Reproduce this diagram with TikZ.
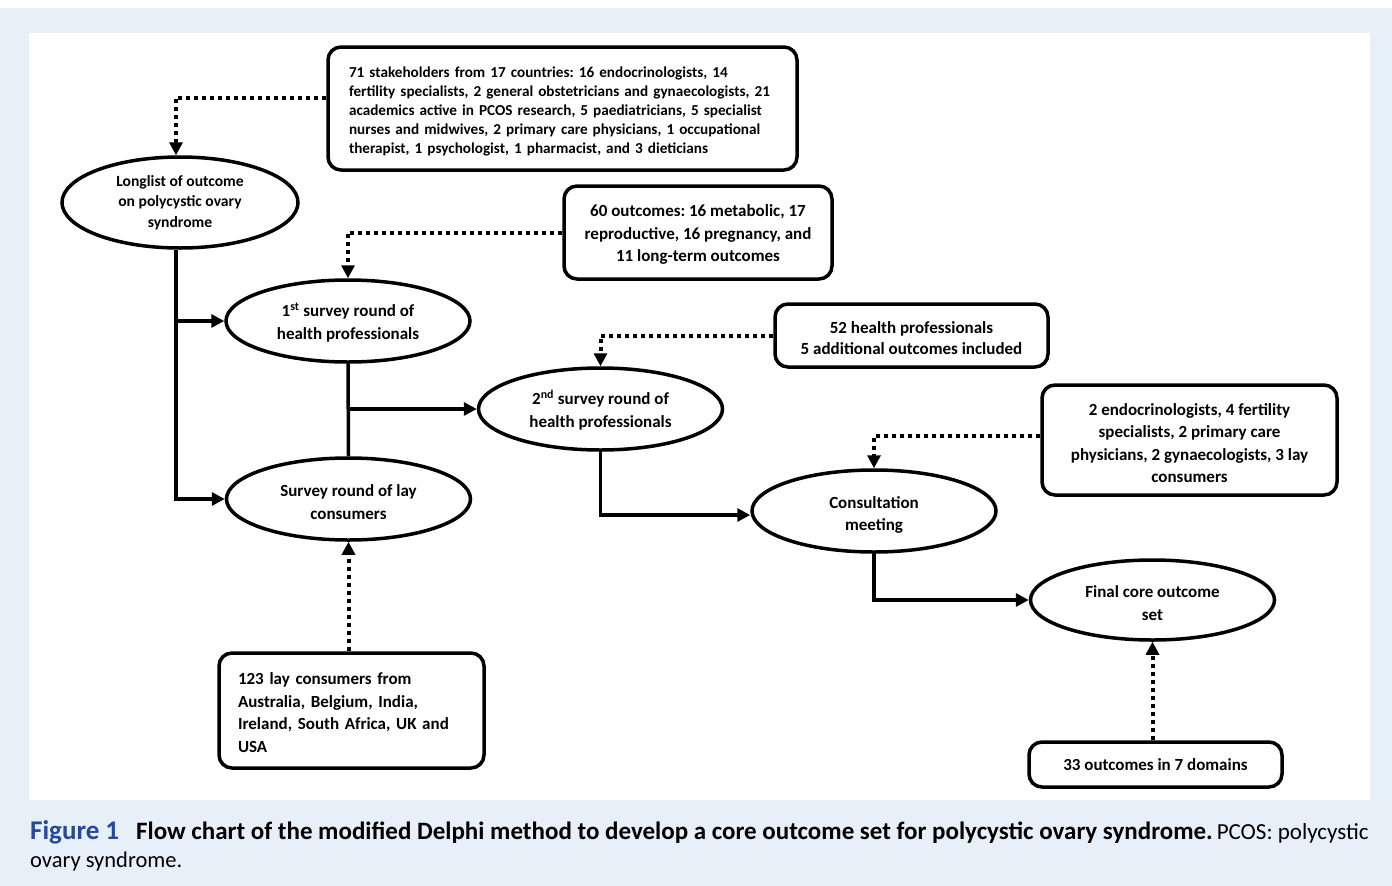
\documentclass[tikz,border=0pt]{standalone}
\usepackage{fontspec}
\setmainfont{Carlito}
\usetikzlibrary{arrows.meta,shapes.geometric,calc}
\definecolor{bgblue}{RGB}{231,239,248}
\definecolor{figblue}{RGB}{40,72,155}
\frenchspacing
\newcommand{\mystrut}[1]{\rule{0pt}{#1}}
\tikzset{
  oval/.style={draw, line width=3.5pt, ellipse, inner sep=0pt, minimum width=244pt, minimum height=82pt, align=center, font=\fontsize{17}{22.5}\selectfont\bfseries, fill=white},
  infobox/.style={draw, line width=3.5pt, rounded corners=13pt, inner sep=0pt, font=\fontsize{17}{22.5}\selectfont\bfseries, fill=white},
  flowarrow/.style={line width=3.5pt, -{Triangle[length=13pt,width=13pt]}},
  flowline/.style={line width=3.5pt},
  dotarrow/.style={line width=4pt, dash pattern=on 4pt off 4pt, -{Triangle[length=13pt,width=13pt]}}
}
\begin{document}
\begin{tikzpicture}[x=1pt,y=-1pt]
\useasboundingbox (0,0) rectangle (1392,886);
\fill[white] (0,0) rectangle (1392,886);
\fill[bgblue] (0,8) rectangle (1392,886);
\fill[white] (29,33) rectangle (1370,800);

% boxes
\node[infobox, minimum width=469pt, minimum height=123pt, text width=427pt, align=left,
      font=\fontsize{15.2}{19}\selectfont\bfseries] (stake) at (562.5,108.5)
  {\mystrut{17pt}71 stakeholders from 17 countries: 16 endocrinologists, 14\\
   fertility specialists, 2 general obstetricians and gynaecologists, 21\\
   academics active in PCOS research, 5 paediatricians, 5 specialist\\
   nurses and midwives, 2 primary care physicians, 1 occupational\\
   therapist, 1 psychologist, 1 pharmacist, and 3 dieticians};
\node[infobox, minimum width=268pt, minimum height=93pt, align=center] (c60) at (698,232.5)
  {\mystrut{16pt}60 outcomes: 16 metabolic, 17\\ reproductive, 16 pregnancy, and\\ 11 long-term outcomes};
\node[infobox, minimum width=273pt, minimum height=63pt, align=center, font=\fontsize{17}{21}\selectfont\bfseries] (c52) at (911.5,335.5)
  {\mystrut{16.5pt}52 health professionals\\ 5 additional outcomes included};
\node[infobox, minimum width=295pt, minimum height=110pt, align=center] (cend) at (1189.5,440)
  {\mystrut{18pt}2 endocrinologists, 4 fertility\\ specialists, 2 primary care\\ physicians, 2 gynaecologists, 3 lay\\ consumers};
\node[infobox, minimum width=265pt, minimum height=115pt, text width=227pt, align=left] (c123) at (351.5,710.5)
  {\mystrut{16pt}123 lay consumers from\\ Australia, Belgium, India,\\ Ireland, South Africa, UK and\\ USA};
\node[infobox, minimum width=253pt, minimum height=45pt, align=center] (c33) at (1155.5,764.5)
  {33 outcomes in 7 domains};

% ovals
\node[oval, minimum width=236pt, minimum height=91pt, font=\fontsize{15.6}{20.5}\selectfont\bfseries] (ll) at (180,202.5)
  {Longlist of outcome\\ on polycystic ovary\\ syndrome};
\node[oval] (s1) at (348,321) {\mystrut{16.5pt}1\textsuperscript{st} survey round of\\ health professionals};
\node[oval] (s2) at (600.5,409) {\mystrut{16.5pt}2\textsuperscript{nd} survey round of\\ health professionals};
\node[oval] (cm) at (874,511) {\mystrut{19.5pt}Consultation\\ meeting};
\node[oval] (lay) at (348.5,499) {\mystrut{18pt}Survey round of lay\\ consumers};
\node[oval, minimum height=80pt] (fc) at (1152.5,600) {\mystrut{18pt}Final core outcome\\ set};

% solid connectors
\coordinate (llb) at ([xshift=-4pt]ll.south);
\coordinate (llt) at ([xshift=-4pt]ll.north);
\draw[flowarrow] (llb) |- (s1.west);
\draw[flowarrow] (llb) |- (lay.west);
\draw[flowline] (s1.south) -- (lay.north);
\coordinate (j1) at (s1.south |- s2.west);
\draw[flowarrow] (j1) -- (s2.west);
\coordinate (cmw) at ([yshift=-4pt]cm.west);
\draw[flowarrow] (s2.south) |- (cmw);
\draw[flowarrow] (cm.south) |- (fc.west);

% dotted connectors
\coordinate (k1) at ([yshift=11pt]stake.west);
\draw[dotarrow] (k1) -| (llt);
\draw[dotarrow] (c60.west) -| (s1.north);
\draw[dotarrow] (c52.west) -| (s2.north);
\coordinate (k2) at ([yshift=4pt]cend.west);
\draw[dotarrow] (k2) -| (cm.north);
\coordinate (k3) at (lay.south |- c123.north);
\draw[dotarrow] (k3) -- (lay.south);
\coordinate (k4) at (fc.south |- c33.north);
\draw[dotarrow] (k4) -- (fc.south);

% caption
\node[anchor=base west, inner sep=0pt, font=\fontsize{25}{28}\selectfont] (cap1) at (30,839)
  {\textcolor{figblue}{\fontsize{27}{28}\selectfont\bfseries Figure 1}\hspace{17pt}{\bfseries Flow chart of the modified Delphi method to develop a core outcome set for polycystic ovary syndrome.}\hspace{4pt}{\fontsize{23}{28}\selectfont PCOS: polycystic}};
\node[anchor=base west, inner sep=0pt, font=\fontsize{22.5}{28}\selectfont] (cap2) at (30,867)
  {ovary syndrome.};
\end{tikzpicture}
\end{document}
